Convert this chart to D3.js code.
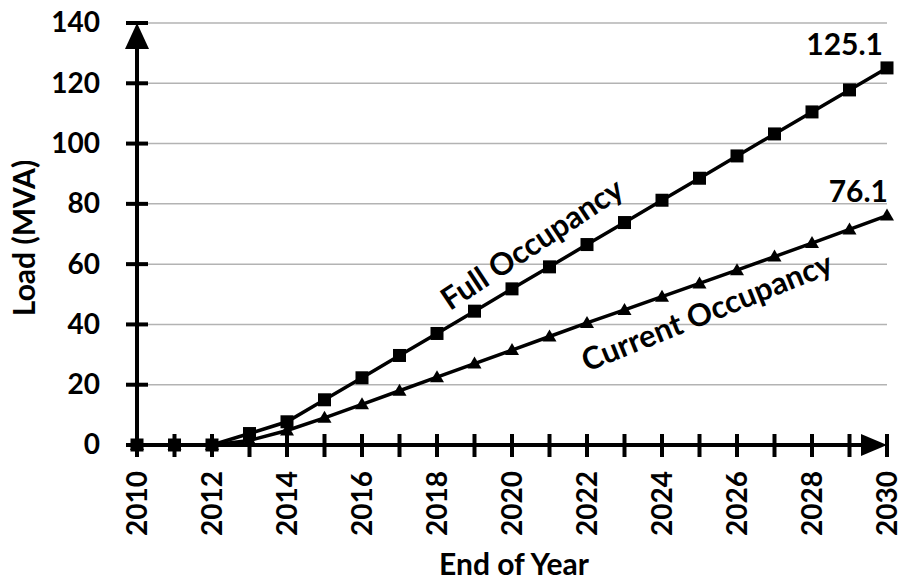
<!DOCTYPE html>
<html><head><meta charset="utf-8">
<script src="https://cdn.jsdelivr.net/npm/d3@7"></script>
<style>body{margin:0;background:#fff}svg{display:block}text{font-family:Lato,"Open Sans",sans-serif;font-weight:bold;fill:#000}</style>
</head><body>
<svg id="c" width="902" height="585"></svg>
<script>
const years = [2010,2011,2012,2013,2014,2015,2016,2017,2018,2019,2020,2021,2022,2023,2024,2025,2026,2027,2028,2029,2030];
const fullOccupancy = [0,0,0,3.8,7.7,15,22.3,29.7,37,44.4,51.8,59.1,66.5,73.8,81.2,88.5,95.9,103.2,110.5,117.8,125.1];
const currentOccupancy = [0,0,0,1.5,4.8,9,13.5,18,22.5,27,31.5,36,40.5,44.8,49.2,53.6,58,62.5,67,71.5,76.1];
const yTicks = [0,20,40,60,80,100,120,140];
const xLabelYears = [2010,2012,2014,2016,2018,2020,2022,2024,2026,2028,2030];
const seriesLabels = ["Full Occupancy","Current Occupancy"];
const endLabels = ["125.1","76.1"];

const svg = d3.select("#c");
const x = d3.scaleLinear().domain([2010,2030]).range([137,887]);
const y = d3.scaleLinear().domain([0,140]).range([445,23]);

// gridlines
svg.append("g").selectAll("line").data(yTicks.filter(d=>d>0)).join("line")
  .attr("x1",x(2010)).attr("x2",x(2030)).attr("y1",d=>y(d)).attr("y2",d=>y(d))
  .attr("stroke","#b3b3b3").attr("stroke-width",1.5);

// y axis
const yAxis = svg.append("g").attr("transform",`translate(${x(2010)},0)`)
  .call(d3.axisLeft(y).tickValues(yTicks).tickSize(0).tickPadding(37));
yAxis.select(".domain").remove();
yAxis.selectAll("text").style("font-size","28px").style("font-family","Lato").style("font-weight","bold");
svg.append("line").attr("x1",x(2010)).attr("x2",x(2010)).attr("y1",y(0)).attr("y2",y(140)+20)
  .attr("stroke","#000").attr("stroke-width",4);
svg.append("g").selectAll("line").data(yTicks).join("line")
  .attr("x1",x(2010)-11).attr("x2",x(2010)+11).attr("y1",d=>y(d)).attr("y2",d=>y(d))
  .attr("stroke","#000").attr("stroke-width",4);
svg.append("path").attr("d",`M${x(2010)},${y(140)} L${x(2010)-12},${y(140)+26} L${x(2010)+12},${y(140)+26}Z`).attr("fill","#000");

// x axis
svg.append("line").attr("x1",x(2010)).attr("x2",x(2030)-20).attr("y1",y(0)).attr("y2",y(0))
  .attr("stroke","#000").attr("stroke-width",4);
svg.append("g").selectAll("line").data(years).join("line")
  .attr("x1",d=>x(d)).attr("x2",d=>x(d)).attr("y1",y(0)-11).attr("y2",y(0)+12)
  .attr("stroke","#000").attr("stroke-width",4);
svg.append("path").attr("d",`M${x(2030)},${y(0)} L${x(2030)-26},${y(0)-11} L${x(2030)-26},${y(0)+11}Z`).attr("fill","#000");
const xAxis = svg.append("g").attr("transform",`translate(0,${y(0)})`)
  .call(d3.axisBottom(x).tickValues(xLabelYears).tickFormat(d3.format("d")).tickSize(0));
xAxis.select(".domain").remove();
xAxis.selectAll("text").style("font-size","28px").style("font-family","Lato").style("font-weight","bold")
  .attr("text-anchor","end").attr("dy","0.35em").attr("dx",0).attr("y",0)
  .attr("transform","translate(0,26) rotate(-90)");

// series
const line = d3.line().x((d,i)=>x(years[i])).y(d=>y(d));
[fullOccupancy,currentOccupancy].forEach(s=>{
  svg.append("path").datum(s).attr("d",line).attr("fill","none").attr("stroke","#000").attr("stroke-width",3.5);
});
svg.append("g").selectAll("rect").data(fullOccupancy).join("rect")
  .attr("x",(d,i)=>x(years[i])-6.5).attr("y",d=>y(d)-6.5).attr("width",13).attr("height",13).attr("fill","#000");
svg.append("g").selectAll("path").data(currentOccupancy).join("path")
  .attr("d",(d,i)=>{const cx=x(years[i]),cy=y(d);return `M${cx},${cy-7} L${cx+7},${cy+5} L${cx-7},${cy+5}Z`;})
  .attr("fill","#000");

// end labels
svg.append("text").attr("x",x(2030)-4).attr("y",y(125.1)-13).attr("text-anchor","end").style("font-size","30px").text(endLabels[0]);
svg.append("text").attr("x",x(2030)+1).attr("y",y(76.1)-14).attr("text-anchor","end").style("font-size","30px").text(endLabels[1]);

// series labels
svg.append("text").attr("transform",`translate(538,253) rotate(-33.5)`).attr("text-anchor","middle").style("font-size","31px").text(seriesLabels[0]);
svg.append("text").attr("transform",`translate(711,322) rotate(-22)`).attr("text-anchor","middle").style("font-size","31px").text(seriesLabels[1]);

// axis titles
svg.append("text").attr("x",514).attr("y",575).attr("text-anchor","middle").style("font-size","30px").text("End of Year");
svg.append("text").attr("transform",`translate(35,238) rotate(-90)`).attr("text-anchor","middle").style("font-size","30px").text("Load (MVA)");
</script>
</body></html>
